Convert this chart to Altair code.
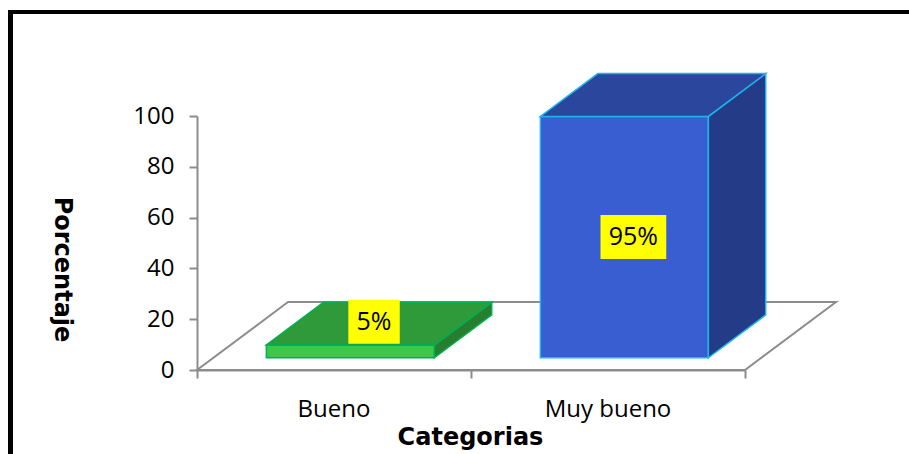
import altair as alt
import pandas as pd

# ---------------- data ----------------
categories = ["Bueno", "Muy bueno"]
values = [5, 95]
value_labels = ["5%", "95%"]
y_ticks = [0, 20, 40, 60, 80, 100]
x_ticks = [0, 1, 2]

# ---------------- style ----------------
front_colors = ["#3EC84A", "#385ED2"]
top_colors = ["#2E9A3A", "#2B479D"]
side_colors = ["#287E2F", "#243B87"]
edge_colors = ["#00B050", "#1DB5EC"]
GRAY = "#8C8C8C"

W, H = 548, 254
PX_X = W / len(categories)       # px per category unit
PX_Y = H / 100.0                 # px per percent
DEPTH_X = 91 / PX_X              # floor depth (x units)
DEPTH_Y = 68 / PX_Y              # floor depth (y units)
F_FRONT, F_BACK = 0.18, 0.81     # bar depth position inside floor
HALF_W = 84 / PX_X               # half bar width
LABEL_FS = 25
TICK_FS = 24
TITLE_FS = 24
BOX_PAD_X, BOX_HALF_H = 8, 22
CENTER_LABEL_SHIFT = 9 / PX_X

# ---------------- geometry from data ----------------
front_rows, side_rows, top_rows, box_rows, cat_rows = [], [], [], [], []
for i, (cat, v, lab) in enumerate(zip(categories, values, value_labels)):
    c = i + 0.5
    ox0, oy0 = F_FRONT * DEPTH_X, F_FRONT * DEPTH_Y
    ox1, oy1 = F_BACK * DEPTH_X, F_BACK * DEPTH_Y
    front_rows.append(dict(cat=cat, x1=c - HALF_W + ox0, x2=c + HALF_W + ox0,
                           y1=oy0, y2=v + oy0, fill=front_colors[i], edge=edge_colors[i]))
    for ox, oy in ((ox0, oy0), (ox1, oy1)):
        side_rows.append(dict(cat=cat, x=c + HALF_W + ox, lo=oy, hi=v + oy,
                              fill=side_colors[i], edge=edge_colors[i]))
        top_rows.append(dict(cat=cat, y=v + oy, lo=c - HALF_W + ox, hi=c + HALF_W + ox,
                             fill=top_colors[i], edge=edge_colors[i]))
    if v >= 20:
        lx, ly = c + ox0 + CENTER_LABEL_SHIFT, v / 2 + oy0
    else:
        mid = (F_FRONT + F_BACK) / 2
        lx, ly = c + mid * DEPTH_X - 5 / PX_X, v + mid * DEPTH_Y + 2 / PX_Y
    tw = sum(0.846 if ch == "%" else 0.572 for ch in lab) * LABEL_FS
    hw = (tw / 2 + BOX_PAD_X) / PX_X
    hh = BOX_HALF_H / PX_Y
    box_rows.append(dict(label=lab, lx=lx, ly=ly, bx1=lx - hw, bx2=lx + hw,
                         by1=ly - hh, by2=ly + hh))
    cat_rows.append(dict(cat=cat, c=c, y0=0))

front_df = pd.DataFrame(front_rows)
side_df = pd.DataFrame(side_rows)
top_df = pd.DataFrame(top_rows)
box_df = pd.DataFrame(box_rows)
cat_df = pd.DataFrame(cat_rows)
floor_df = pd.DataFrame([
    dict(y=0, lo=0, hi=len(categories)),
    dict(y=DEPTH_Y, lo=DEPTH_X, hi=len(categories) + DEPTH_X),
])

# ---------------- scales / axes ----------------
xs = alt.Scale(domain=[0, len(categories)], nice=False, zero=False)
ys = alt.Scale(domain=[0, 100], nice=False)

X_AXIS = alt.Axis(values=x_ticks, labels=False, grid=False, domainColor=GRAY,
                  domainWidth=2, tickColor=GRAY, tickWidth=2, tickSize=8,
                  title="Categorias", titleFont="DejaVu Sans", titleFontSize=TITLE_FS,
                  titleFontWeight="bold", titleColor="black", titleAlign="center",
                  titleBaseline="alphabetic", titleX=273, titleY=74)
Y_AXIS = alt.Axis(values=y_ticks, grid=False, domainColor=GRAY, domainWidth=2,
                  tickColor=GRAY, tickWidth=2, tickSize=8, labelPadding=15,
                  labelFont="Open Sans", labelFontSize=TICK_FS, labelColor="black",
                  title="Porcentaje", titleFont="DejaVu Sans", titleFontSize=TITLE_FS,
                  titleFontWeight="bold", titleColor="black", titleAngle=90,
                  titleAlign="center", titleBaseline="middle", titleX=-136, titleY=153)

def X(field):
    return alt.X(field, type="quantitative", scale=xs, axis=X_AXIS, title="Categorias")

def Y(field):
    return alt.Y(field, type="quantitative", scale=ys, axis=Y_AXIS, title="Porcentaje", stack=None)

floor = alt.Chart(floor_df).mark_area(orient="horizontal", fill="white", fillOpacity=0,
                                      stroke=GRAY, strokeWidth=2).encode(
    y=Y("y"), x=X("lo"), x2="hi")

front = alt.Chart(front_df).mark_rect(strokeWidth=1.5).encode(
    x=X("x1"), x2="x2", y=Y("y1"), y2="y2",
    color=alt.Color("fill:N", scale=None), stroke=alt.Stroke("edge:N", scale=None))

side = alt.Chart(side_df).mark_area(strokeWidth=1.5).encode(
    x=X("x"), y=Y("lo"), y2="hi", detail="cat:N",
    color=alt.Color("fill:N", scale=None), stroke=alt.Stroke("edge:N", scale=None))

top = alt.Chart(top_df).mark_area(orient="horizontal", strokeWidth=1.5).encode(
    y=Y("y"), x=X("lo"), x2="hi", detail="cat:N",
    color=alt.Color("fill:N", scale=None), stroke=alt.Stroke("edge:N", scale=None))

boxes = alt.Chart(box_df).mark_rect(color="#FFFF00").encode(
    x=X("bx1"), x2="bx2", y=Y("by1"), y2="by2")

box_text = alt.Chart(box_df).mark_text(font="Open Sans", fontSize=LABEL_FS, color="black",
                                       baseline="middle", align="center").encode(
    x=X("lx"), y=Y("ly"), text="label:N")

cat_text = alt.Chart(cat_df).mark_text(font="Open Sans", fontSize=TICK_FS, color="black",
                                       baseline="alphabetic", align="center", dy=47).encode(
    x=X("c"), y=Y("y0"), text="cat:N")

frame_left = alt.Chart(cat_df).mark_rule(color="black", strokeWidth=5).encode(
    x=alt.value(-186.5), y=alt.value(-106), y2=alt.value(360))
frame_top = alt.Chart(cat_df).mark_rule(color="black", strokeWidth=4).encode(
    x=alt.value(-189), x2=alt.value(730), y=alt.value(-104))

chart = alt.layer(floor, front, side, top, boxes, box_text, cat_text, frame_left, frame_top).properties(
    width=W, height=H,
    autosize=alt.AutoSizeParams(type="none"),
    padding={"left": 197, "top": 116, "right": 909 - 197 - W, "bottom": 454 - 116 - H},
    background="white",
).configure_view(stroke=None)

chart.save("out.html", embed_options={"renderer": "svg", "actions": False})
